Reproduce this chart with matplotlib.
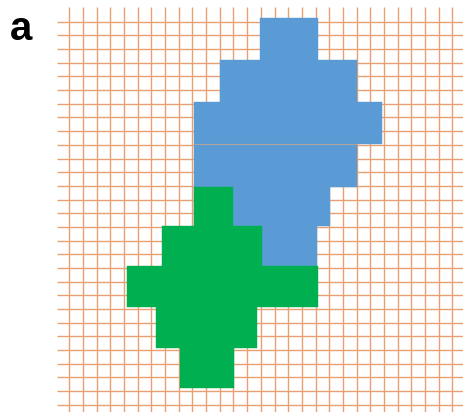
import numpy as np
import matplotlib.pyplot as plt

# grid in cell units, 29 lines each way
n_lines = 29
cell_px = 13.68
origin_px = (69.3, 21.7)

# blue shape, one row band per entry (cell units, y grows downward)
blue_left = [13.96, 11.01, 9.12, 9.12, 9.12, 11.94]
blue_right = [18.15, 21.01, 22.84, 21.01, 19.05, 18.13]
blue_top = [-0.25, 2.80, 5.87, 8.93, 12.07, 14.92]
blue_bottom = [2.80, 5.87, 8.93, 12.07, 14.92, 17.83]

# green shape
green_left = [9.12, 6.75, 4.20, 6.34, 8.09]
green_right = [11.94, 14.11, 18.16, 13.70, 12.04]
green_top = [12.07, 14.92, 17.83, 20.84, 23.86]
green_bottom = [14.92, 17.83, 20.84, 23.86, 26.77]

W, H = 463, 412
fig = plt.figure(figsize=(W / 100, H / 100), dpi=100)
ax = fig.add_axes([0, 0, 1, 1])
ax.set_axis_off()

x0 = -origin_px[0] / cell_px
x1 = (W - origin_px[0]) / cell_px
y0 = -origin_px[1] / cell_px
y1 = (H - origin_px[1]) / cell_px
ax.set_xlim(x0, x1)
ax.set_ylim(y1, y0)

grid_col = "#e6a073"
ax.vlines(np.arange(n_lines), -1.1, y1, color=grid_col, lw=1.0, zorder=1)
ax.hlines(np.arange(n_lines), -0.88, x1, color=grid_col, lw=1.0, zorder=1)


def draw_shape(left, right, top, bottom, color, z):
    left, right = np.array(left), np.array(right)
    top, bottom = np.array(top), np.array(bottom)
    ax.barh(top, right - left, left=left, height=bottom - top, align="edge",
            color=color, edgecolor=color, lw=0.3, zorder=z)


draw_shape(blue_left, blue_right, blue_top, blue_bottom, "#5b9bd5", 2)
draw_shape(green_left, green_right, green_top, green_bottom, "#00b050", 3)

# faint seam where the two halves of the blue shape meet
ax.hlines(blue_bottom[2], blue_left[3], blue_right[3], color="#c9a58a",
          lw=0.8, alpha=0.8, zorder=2.5)

fig.text(10 / W, 1 - 40 / H, "a", fontsize=29, fontweight="bold",
         family="Liberation Sans", va="baseline", ha="left")

fig.savefig("out.png", dpi=100)
